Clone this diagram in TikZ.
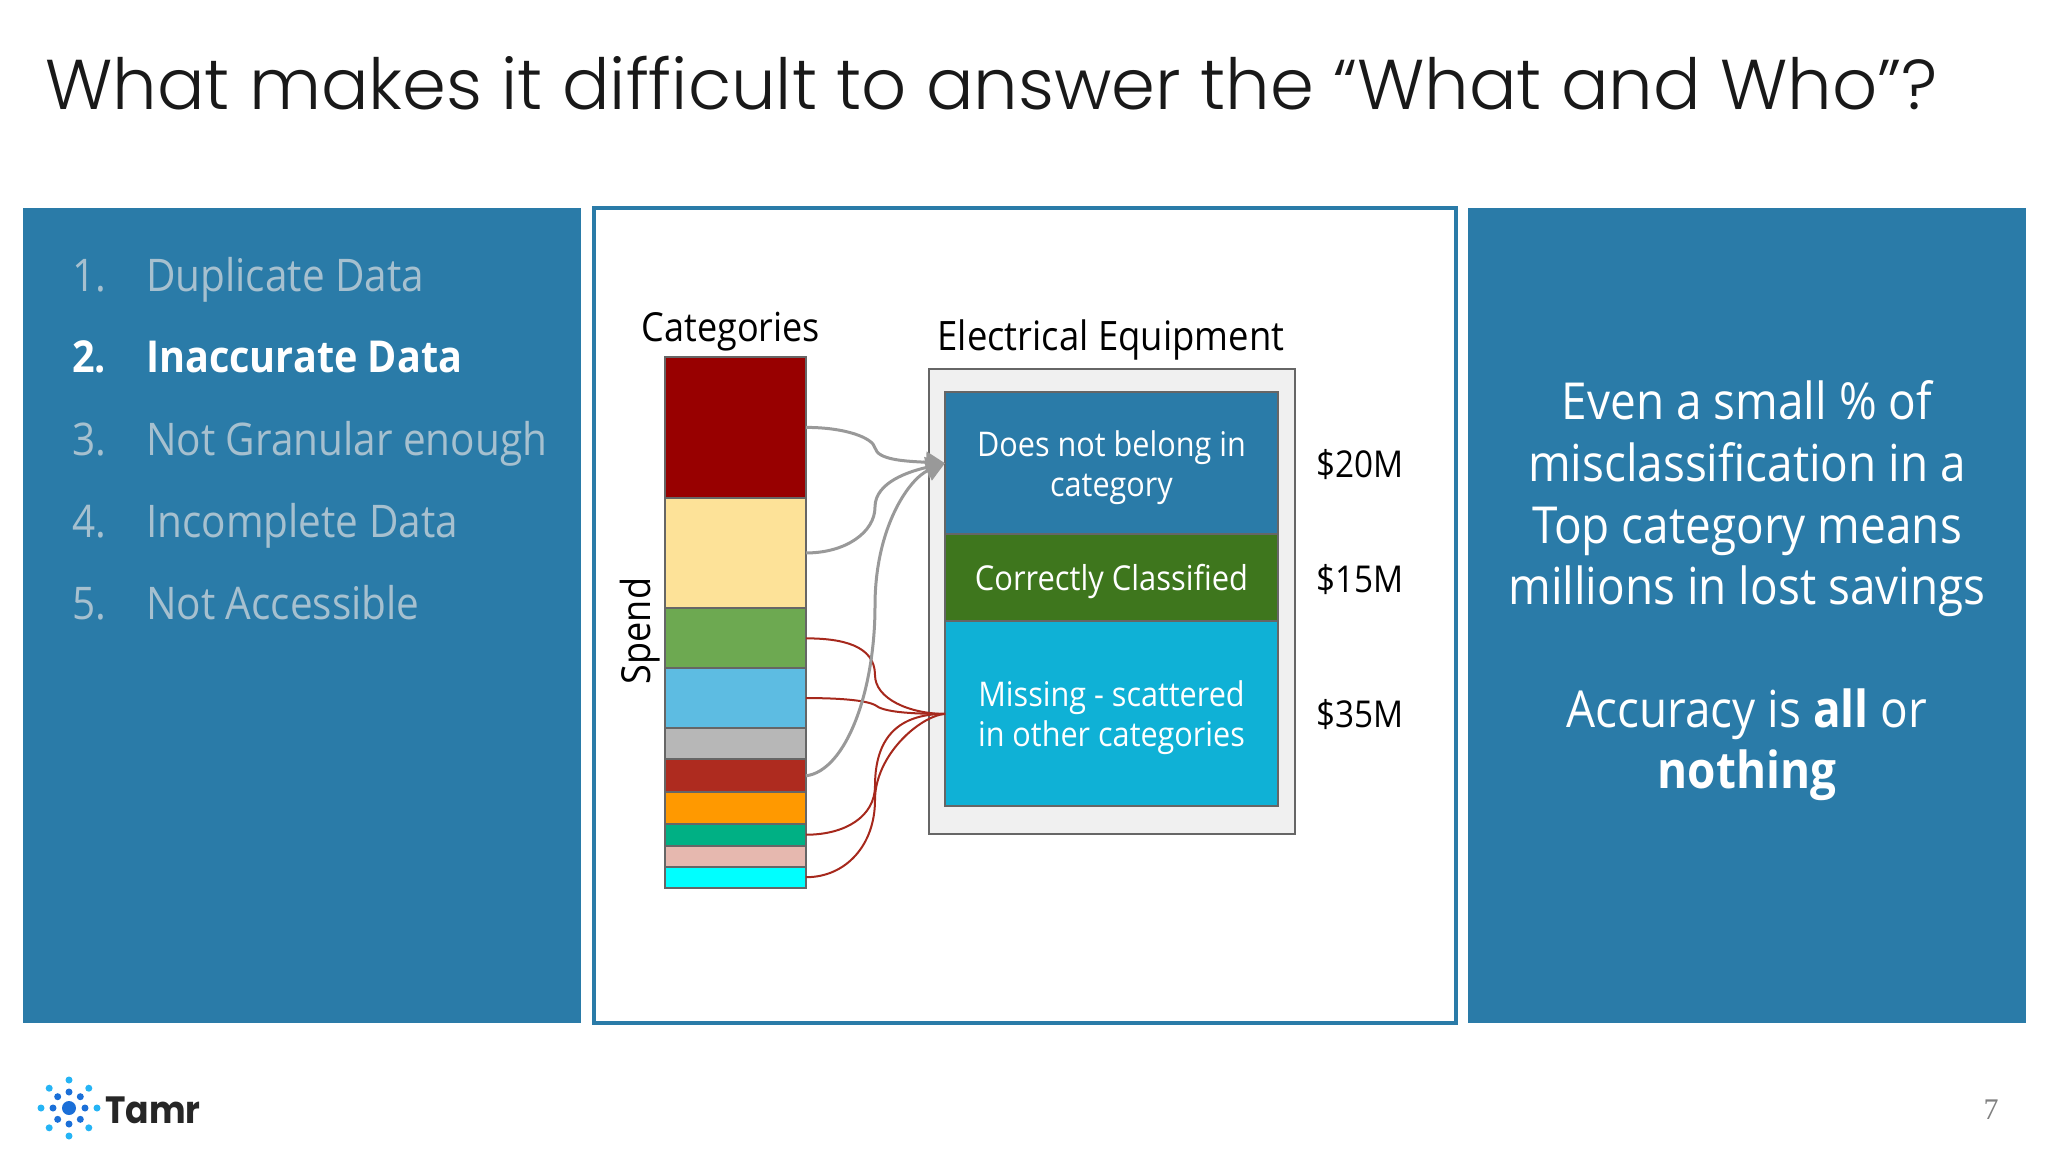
\documentclass[tikz,border=0pt]{standalone}
\usepackage{fontspec}
\usetikzlibrary{arrows.meta}
\setmainfont[FakeStretch=0.9]{Open Sans}
\newfontfamily\titlefont{Poppins Light}
\newfontfamily\logofont[FakeStretch=0.91]{Poppins}
\newfontfamily\numfont{Liberation Serif}
\definecolor{panelblue}{HTML}{2A7BA8}
\definecolor{framegray}{HTML}{666666}
\definecolor{mutedtxt}{HTML}{A6C0CF}
\definecolor{grayline}{HTML}{999999}
\definecolor{redline}{HTML}{A6281C}
\definecolor{logoA}{HTML}{1B6FD8}
\definecolor{logoB}{HTML}{25B4F5}
\definecolor{cA}{HTML}{980000}
\definecolor{cB}{HTML}{FDE298}
\definecolor{cC}{HTML}{6DA951}
\definecolor{cD}{HTML}{5DBCE2}
\definecolor{cE}{HTML}{B7B7B7}
\definecolor{cF}{HTML}{AE2B1F}
\definecolor{cG}{HTML}{FF9900}
\definecolor{cH}{HTML}{00B084}
\definecolor{cI}{HTML}{E6B8AF}
\definecolor{cJ}{HTML}{00FFFF}
\definecolor{iA}{HTML}{2A7BA8}
\definecolor{iB}{HTML}{3E761D}
\definecolor{iC}{HTML}{0FB1D6}
\newcommand{\fs}[1]{\fontsize{#1}{#1}\selectfont}
\tikzset{
  panel/.style={draw=none,fill=panelblue,inner sep=0,outer sep=0,minimum width=#1,minimum height=815pt,anchor=north west},
  seg/.style={draw=framegray,line width=2pt,fill=#1,inner sep=0,outer sep=0,minimum width=141pt,anchor=north west},
  inbox/.style={draw=framegray,line width=2pt,fill=#1,inner sep=0,outer sep=0,minimum width=333pt,anchor=north west},
  boxtxt/.style={inner sep=0,text=white,align=center,yshift=-4pt,font=\fs{34}},
  listitem/.style={anchor=base west,inner sep=0,text=mutedtxt,font=\fs{45}},
  sidetxt/.style={anchor=base,inner sep=0,text=white,font=\fs{51}},
  lab/.style={anchor=base,inner sep=0,text=black,font=\fs{40}},
  grayc/.style={draw=grayline,line width=3pt,-{Triangle[length=19pt,width=21pt,fill=grayline]}},
  redc/.style={draw=redline,line width=2pt},
  dotA/.style={fill=logoA,draw=none,circle,inner sep=0,minimum size=7pt},
  dotB/.style={fill=logoB,draw=none,circle,inner sep=0,minimum size=7pt},
}
\begin{document}
\begin{tikzpicture}[x=1pt,y=-1pt]
\useasboundingbox (0,0) rectangle (2048,1152);
\fill[white] (0,0) rectangle (2048,1152);
\node[anchor=base west,inner sep=0,font=\titlefont\fs{70.5},text=black!90] (title) at (45,109) {What makes it difficult to answer the “What and Who”?};
\node[panel=558pt] (left) at (23,208) {};
\node[panel=558pt] (right) at (1468,208) {};
\node[draw=panelblue,line width=4pt,fill=white,inner sep=0,outer sep=0,minimum width=862pt,minimum height=815pt,anchor=north west] (mid) at (594,208) {};

\node[listitem] (n1) at (72,291) {1.};
\node[listitem] (t1) at (146,291) {Duplicate Data};
\node[listitem,text=white,font=\fs{44}\bfseries] (n2) at (72,372) {2.};
\node[listitem,text=white,font=\fs{44}\bfseries] (t2) at (146,372) {Inaccurate Data};
\node[listitem] (n3) at (72,455) {3.};
\node[listitem] (t3) at (146,455) {Not Granular enough};
\node[listitem] (n4) at (72,537) {4.};
\node[listitem] (t4) at (146,537) {Incomplete Data};
\node[listitem] (n5) at (72,619) {5.};
\node[listitem] (t5) at (146,619) {Not Accessible};

\node[sidetxt] (s1) at (1747,419) {Even a small \% of};
\node[sidetxt] (s2) at (1747,481) {misclassification in a};
\node[sidetxt] (s3) at (1747,543) {Top category means};
\node[sidetxt] (s4) at (1747,604) {millions in lost savings};
\node[sidetxt] (s5) at (1747,727) {Accuracy is \textbf{all} or};
\node[sidetxt] (s6) at (1747,788) {\textbf{nothing}};

\node[lab] (cats) at (731,341) {Categories};
\node[lab,font=\fs{40.5}] (elec) at (1111,350) {Electrical Equipment};
\node[lab,rotate=90,anchor=center] (spend) at (640,631) {Spend};

\node[draw=framegray,line width=2pt,fill=black!6,inner sep=0,outer sep=0,minimum width=366pt,minimum height=465.4pt,anchor=north west] (outer) at (929,368.7) {};

\node[seg=cA,minimum height=140.4pt] (b1) at (665,357.2) {};
\node[seg=cB,minimum height=110.7pt] (b2) at (665,497.6) {};
\node[seg=cC,minimum height=60.1pt] (b3) at (665,608.3) {};
\node[seg=cD,minimum height=59.3pt] (b4) at (665,668.4) {};
\node[seg=cE,minimum height=31.7pt] (b5) at (665,727.7) {};
\node[seg=cF,minimum height=32.8pt] (b6) at (665,759.4) {};
\node[seg=cG,minimum height=31.6pt] (b7) at (665,792.2) {};
\node[seg=cH,minimum height=21.8pt] (b8) at (665,823.8) {};
\node[seg=cI,minimum height=20.9pt] (b9) at (665,845.6) {};
\node[seg=cJ,minimum height=21.4pt] (b10) at (665,866.5) {};

\node[inbox=iA,minimum height=142.4pt] (does) at (945,392) {};
\node[inbox=iB,minimum height=87pt] (corr) at (945,534.4) {};
\node[inbox=iC,minimum height=185pt] (miss) at (945,621.4) {};
\node[boxtxt] (doest) at (does.center) {Does not belong in\\[6pt]category};
\node[boxtxt,font=\fs{34.3}] (corrt) at (corr.center) {Correctly Classified};
\node[boxtxt] (misst) at (miss.center) {Missing - scattered\\[6pt]in other categories};

\node[lab,font=\fs{37}] (m20) at (1360,477) {\$20M};
\node[lab,font=\fs{37}] (m15) at (1360,592) {\$15M};
\node[lab,font=\fs{37}] (m35) at (1360,727) {\$35M};

% connectors
\coordinate (k1) at (875,448);
\coordinate (k2) at (875,507);
\coordinate (k3) at (875,606);
\coordinate (k4) at (875,675);
\coordinate (k5) at (875,705);
\coordinate (k6) at (875,786);
\coordinate (k7) at (875,800);
\draw[redc] (b3.east) .. controls +(35,0) and +(0,-30) .. (k4) .. controls +(0,24) and +(-35,0) .. (miss.west);
\draw[redc] (b4.east) .. controls +(40,0) and +(-8,-4) .. (k5) .. controls +(8,7) and +(-35,0) .. (miss.west);
\draw[redc] (b8.east) .. controls +(40,0) and +(0,30) .. (k6) .. controls +(0,-55) and +(-40,0) .. (miss.west);
\draw[redc] (b10.east) .. controls +(40,0) and +(0,45) .. (k7) .. controls +(0,-45) and +(-25,2) .. (miss.west);
\draw[grayc] (b1.east) .. controls +(40,0) and +(-2,-10) .. (k1) .. controls +(3,12) and +(-40,-2) .. (does.west);
\draw[grayc] (b2.east) .. controls +(40,0) and +(0,25) .. (k2) .. controls +(0,-25) and +(-35,8) .. (does.west);
\draw[grayc] (b6.east) .. controls +(40,-5) and +(0,85) .. (k3) .. controls +(0,-80) and +(-35,15) .. (does.west);

% logo
\node[fill=logoA,circle,draw=none,inner sep=0,minimum size=14pt] (lc) at (69,1108) {};
\foreach \a in {0,45,...,315}{
  \node[dotA] (la\a) at ({69+16*cos(\a)},{1108+16*sin(\a)}) {};
  \node[dotB] (lb\a) at ({69+28*cos(\a)},{1108+28*sin(\a)}) {};
}
\node[anchor=base west,inner sep=0,font=\logofont\bfseries\fs{38},text=black!85] (tamr) at (105,1123) {Tamr};
\node[anchor=base,inner sep=0,font=\numfont\fs{30},text=black!50] (pg) at (1991,1119) {7};
\end{tikzpicture}
\end{document}
